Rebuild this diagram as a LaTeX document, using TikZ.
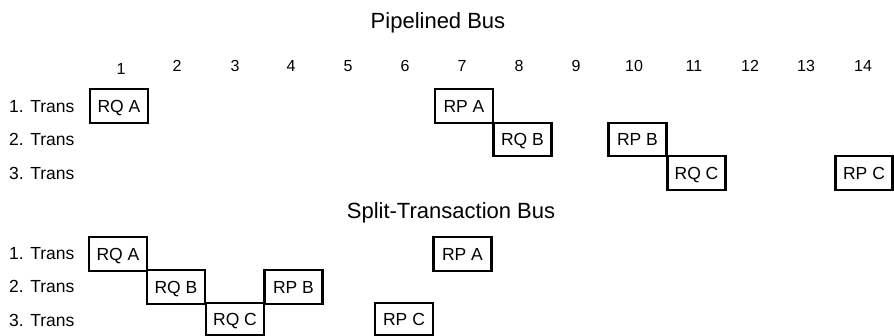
\documentclass[tikz,border=0pt]{standalone}
\usepackage{fontspec}
\setmainfont{Liberation Sans}
\begin{document}
\begin{tikzpicture}[x=1pt,y=-1pt,
  slot/.style={draw, line width=2.4pt, rectangle, inner sep=0pt,
    minimum width=58pt, minimum height=33.5pt,
    font=\fontsize{17.5}{18}\selectfont, text height=12.5pt, text depth=0pt},
  rowlabel/.style={anchor=base west, inner sep=0pt, font=\fontsize{17.5}{18}\selectfont},
  colnum/.style={anchor=base, inner sep=0pt, font=\fontsize{16}{17}\selectfont},
  title/.style={anchor=base, inner sep=0pt, font=\fontsize{22}{24}\selectfont}]
\useasboundingbox (0,0) rectangle (894,336);
% titles
\node[title] (t1) at (438,29) {Pipelined Bus};
\node[title] (t2) at (451,219) {Split-Transaction Bus};
% column numbers
\node[colnum] (c1) at (121,75) {1};
\node[colnum] (c2) at (177,72) {2};
\node[colnum] (c3) at (235,72) {3};
\node[colnum] (c4) at (291,72) {4};
\node[colnum] (c5) at (348,72) {5};
\node[colnum] (c6) at (405,72) {6};
\node[colnum] (c7) at (462,72) {7};
\node[colnum] (c8) at (519,72) {8};
\node[colnum] (c9) at (576,72) {9};
\node[colnum] (c10) at (634,72) {10};
\node[colnum] (c11) at (694,72) {11};
\node[colnum] (c12) at (750,72) {12};
\node[colnum] (c13) at (806,72) {13};
\node[colnum] (c14) at (863,72) {14};
% row labels (pipelined)
\node[rowlabel] (pl1) at (9,113) {1. Trans};
\node[rowlabel] (pl2) at (9,146) {2. Trans};
\node[rowlabel] (pl3) at (9,180) {3. Trans};
% row labels (split)
\node[rowlabel] (sl1) at (9,260) {1. Trans};
\node[rowlabel] (sl2) at (9,293) {2. Trans};
\node[rowlabel] (sl3) at (9,327) {3. Trans};
% pipelined boxes
\node[slot] (pRQA) at (119,106) {RQ A};
\node[slot] (pRPA) at (464,106) {RP A};
\node[slot] (pRQB) at (522.5,139.5) {RQ B};
\node[slot] (pRPB) at (637.5,139.5) {RP B};
\node[slot] (pRQC) at (696.5,173) {RQ C};
\node[slot,minimum width=57pt] (pRPC) at (864,173) {RP C};
% split boxes
\node[slot] (sRQA) at (118,254) {RQ A};
\node[slot] (sRQB) at (176,287) {RQ B};
\node[slot,minimum height=32pt] (sRQC) at (235,319) {RQ C};
\node[slot] (sRPB) at (293.5,287) {RP B};
\node[slot,minimum height=32pt] (sRPC) at (404,319) {RP C};
\node[slot] (sRPA) at (462.5,254) {RP A};
\end{tikzpicture}
\end{document}
